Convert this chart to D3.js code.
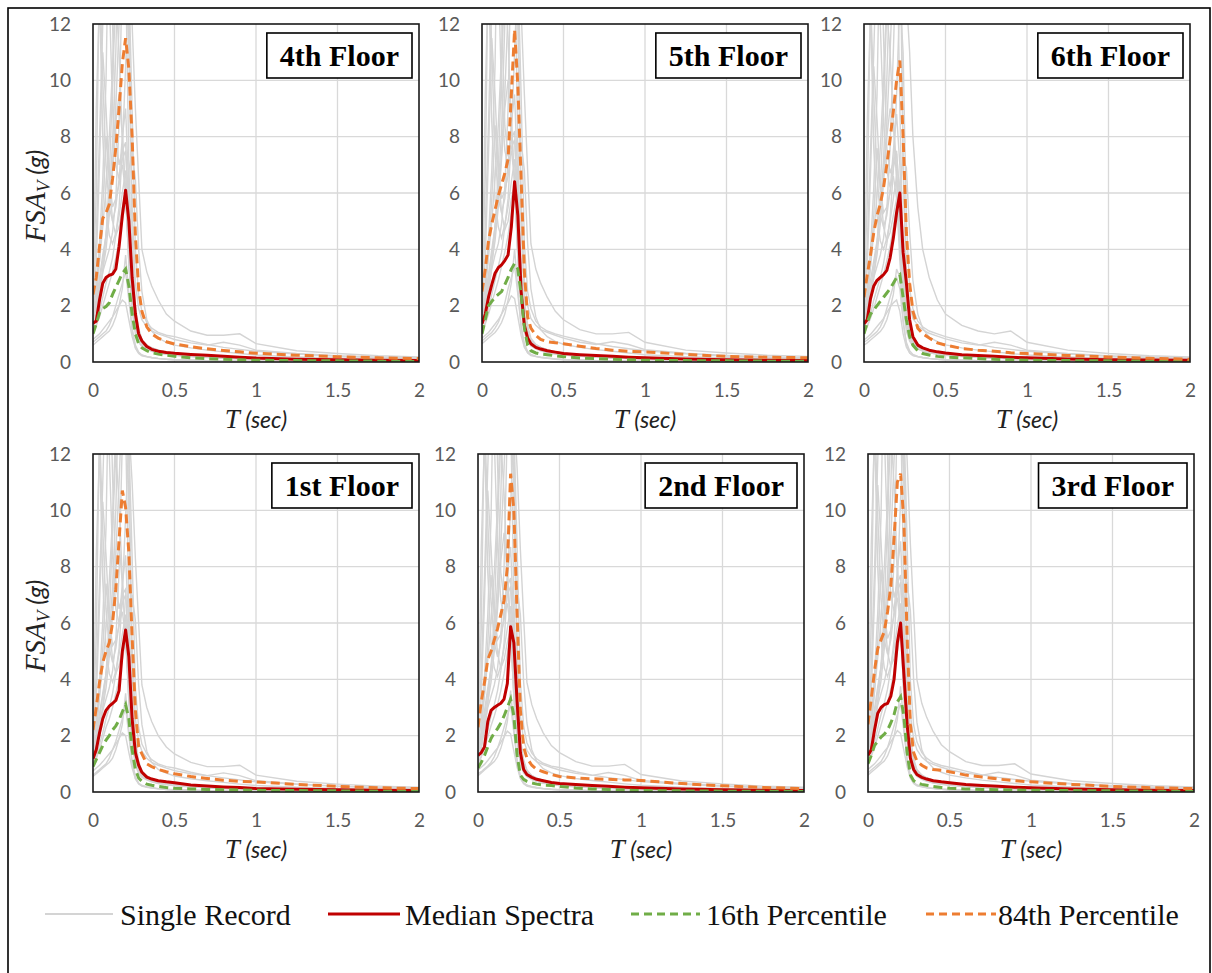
<!DOCTYPE html>
<html><head><meta charset="utf-8">
<script src="https://cdn.jsdelivr.net/npm/d3@7"></script>
<style>body{margin:0;background:#fff} svg{display:block}</style>
</head><body>
<svg id="chart" width="1212" height="973"></svg>
<script>
// ---------------- DATA ----------------
const periods = [0,0.02,0.04,0.06,0.08,0.10,0.12,0.14,0.16,0.18,0.20,0.22,0.24,0.26,0.28,0.30,0.33,0.36,0.40,0.45,0.50,0.60,0.70,0.80,0.90,1.00,1.25,1.50,1.75,2.00];
const xTicks = [0,0.5,1,1.5,2];
const yTicks = [0,2,4,6,8,10,12];
const floorNames = ["4th Floor","5th Floor","6th Floor","1st Floor","2nd Floor","3rd Floor"];
const legendLabels = ["Single Record","Median Spectra","16th Percentile","84th Percentile"];

const median4th = [1.38,1.45,2.2,2.8,3.0,3.08,3.12,3.3,4.1,5.2,6.1,5.0,3.0,1.7,1.0,0.75,0.55,0.45,0.38,0.34,0.31,0.27,0.24,0.2,0.17,0.14,0.1,0.08,0.06,0.05];
const p84_4th   = [2.4,3.0,4.1,5.1,5.3,5.6,6.5,7.6,9.0,10.6,11.5,10.4,8.0,4.5,2.6,1.8,1.25,1.0,0.85,0.72,0.64,0.54,0.47,0.41,0.36,0.31,0.24,0.19,0.15,0.12];
const p16_4th   = [1.0,1.35,1.75,1.9,1.97,2.1,2.4,2.65,2.9,3.15,3.3,2.7,1.7,1.0,0.65,0.5,0.4,0.33,0.28,0.24,0.2,0.15,0.12,0.1,0.08,0.06,0.05,0.04,0.03,0.02];

const median5th = [1.36,1.7,2.3,2.75,3.15,3.35,3.45,3.6,3.8,4.8,6.4,5.2,2.5,1.3,0.85,0.65,0.52,0.46,0.4,0.35,0.3,0.26,0.23,0.2,0.17,0.15,0.11,0.08,0.06,0.05];
const p84_5th   = [2.5,3.3,4.3,4.9,5.4,5.9,6.3,6.7,7.2,9.5,11.8,9.8,6.5,3.2,1.6,1.2,0.95,0.8,0.72,0.68,0.65,0.56,0.48,0.42,0.38,0.36,0.27,0.2,0.17,0.15];
const p16_5th   = [1.0,1.5,2.0,2.15,2.3,2.4,2.5,2.75,3.0,3.3,3.5,3.3,2.4,1.2,0.6,0.4,0.32,0.28,0.26,0.22,0.19,0.14,0.12,0.1,0.08,0.06,0.05,0.04,0.03,0.03];

const median6th = [1.36,1.5,2.25,2.7,2.9,3.0,3.1,3.25,3.7,4.4,5.3,6.0,3.9,2.8,1.5,0.9,0.6,0.5,0.42,0.36,0.32,0.26,0.23,0.2,0.17,0.15,0.11,0.08,0.07,0.06];
const p84_6th   = [2.3,3.1,3.8,4.6,5.2,5.6,6.2,7.0,7.9,8.9,10.0,10.7,8.0,4.6,2.8,1.8,1.2,1.0,0.85,0.68,0.6,0.48,0.42,0.38,0.33,0.3,0.23,0.18,0.13,0.1];
const p16_6th   = [1.0,1.4,1.7,1.85,2.0,2.15,2.3,2.45,2.6,2.8,3.0,3.1,2.3,1.5,0.9,0.6,0.4,0.3,0.25,0.2,0.17,0.15,0.12,0.1,0.08,0.06,0.05,0.04,0.03,0.03];

const median1st = [1.18,1.5,2.1,2.6,2.9,3.05,3.15,3.25,3.6,5.0,5.75,4.8,2.6,1.4,0.95,0.7,0.53,0.46,0.4,0.36,0.33,0.25,0.21,0.18,0.16,0.12,0.1,0.08,0.06,0.05];
const p84_1st   = [2.2,3.0,3.9,4.6,5.0,5.3,6.0,7.2,8.95,10.7,10.1,8.5,5.5,2.9,1.6,1.35,1.0,0.9,0.8,0.72,0.65,0.55,0.48,0.42,0.38,0.36,0.27,0.2,0.15,0.12];
const p16_1st   = [0.9,1.15,1.4,1.65,1.84,2.0,2.2,2.35,2.55,2.85,3.1,2.6,1.5,0.8,0.5,0.38,0.28,0.24,0.2,0.16,0.13,0.11,0.09,0.08,0.07,0.06,0.05,0.04,0.03,0.02];

const median2nd = [1.3,1.4,1.6,2.5,2.9,3.0,3.08,3.15,3.3,3.85,5.87,5.3,3.2,1.4,0.8,0.62,0.52,0.45,0.4,0.34,0.3,0.27,0.23,0.2,0.17,0.15,0.11,0.08,0.06,0.05];
const p84_2nd   = [2.3,3.2,3.9,4.7,5.0,5.4,5.8,6.3,6.8,8.0,11.3,10.0,6.3,2.9,1.6,1.2,0.95,0.8,0.72,0.62,0.55,0.5,0.47,0.45,0.43,0.41,0.3,0.22,0.16,0.12];
const p16_2nd   = [0.85,1.05,1.3,1.6,1.9,2.1,2.25,2.45,2.7,3.0,3.3,2.7,1.3,0.6,0.45,0.38,0.32,0.28,0.25,0.23,0.2,0.14,0.11,0.09,0.07,0.05,0.04,0.03,0.03,0.02];

const median3rd = [1.3,1.5,2.2,2.8,3.0,3.1,3.15,3.4,4.0,5.3,6.0,4.2,2.4,1.2,0.8,0.62,0.52,0.46,0.4,0.36,0.33,0.27,0.23,0.2,0.17,0.15,0.11,0.08,0.06,0.05];
const p84_3rd   = [2.4,3.3,4.3,5.1,5.4,5.7,6.4,7.3,9.0,11.0,11.3,9.6,5.5,2.4,1.4,1.1,0.95,0.85,0.8,0.77,0.72,0.6,0.53,0.46,0.4,0.36,0.27,0.2,0.15,0.12];
const p16_3rd   = [1.0,1.3,1.65,1.8,1.95,2.05,2.2,2.45,2.75,3.2,3.38,2.7,1.4,0.6,0.4,0.32,0.27,0.24,0.2,0.16,0.13,0.11,0.09,0.08,0.07,0.06,0.05,0.04,0.03,0.02];

const records4th = [
[1.2,1.6,2.5,3.2,3.6,4.0,4.6,5.8,8.5,14,18,11,4.5,2.0,1.2,0.8,0.6,0.5,0.42,0.36,0.3,0.24,0.2,0.17,0.14,0.12,0.09,0.07,0.05,0.04],
[2.2,4.5,8,12,16,13,9,7,6.5,7,6,3.5,2.0,1.3,0.9,0.7,0.55,0.45,0.38,0.32,0.28,0.22,0.18,0.15,0.13,0.11,0.08,0.06,0.05,0.04],
[0.7,0.8,0.9,1.0,1.1,1.3,1.6,2.0,2.4,2.8,3.2,2.2,1.2,0.6,0.35,0.25,0.2,0.16,0.13,0.1,0.08,0.06,0.05,0.04,0.03,0.03,0.02,0.02,0.01,0.01],
[1.8,2.2,3.0,3.8,4.5,5.5,7.0,9.0,12,15,16,14,12,9,6.5,4.0,3.2,2.7,2.2,1.7,1.45,1.1,0.95,0.95,1.0,0.65,0.4,0.3,0.22,0.18],
[1.5,1.9,2.6,3.3,4.0,5.2,6.8,8.5,9.5,8.0,6.0,3.5,1.8,1.0,0.7,0.55,0.45,0.38,0.32,0.27,0.24,0.2,0.17,0.14,0.12,0.1,0.08,0.06,0.05,0.04],
[1.0,1.3,1.8,2.3,2.8,3.2,3.7,4.5,5.5,7.5,10.5,13.5,9.0,4.0,2.4,1.8,1.4,1.2,1.05,0.95,0.9,0.75,0.62,0.52,0.45,0.38,0.28,0.2,0.16,0.13],
[0.6,0.7,0.8,0.9,1.0,1.1,1.3,1.6,2.0,2.6,3.8,2.4,1.1,0.5,0.3,0.22,0.18,0.15,0.12,0.1,0.08,0.06,0.05,0.04,0.03,0.03,0.02,0.02,0.01,0.01],
[2.6,6,14,10,7,5.5,5.0,5.5,6.5,8.0,9.0,6.0,3.0,1.6,1.0,0.75,0.6,0.5,0.42,0.35,0.3,0.24,0.2,0.17,0.15,0.13,0.1,0.08,0.06,0.05],
[1.6,2.0,2.8,3.6,4.5,5.8,7.8,11,16,20,14,7.0,3.0,1.5,1.0,0.75,0.58,0.48,0.4,0.34,0.3,0.25,0.21,0.18,0.15,0.13,0.1,0.08,0.06,0.05],
[1.1,1.3,1.6,2.0,2.4,2.8,3.2,3.7,4.3,5.0,5.8,6.8,7.5,6.5,4.0,2.5,1.5,1.1,0.85,0.7,0.6,0.5,0.42,0.36,0.3,0.25,0.18,0.14,0.11,0.09],
[1.4,2.2,3.6,5.5,8.0,6.5,5.0,4.5,4.8,5.5,6.0,4.0,2.2,1.3,0.85,0.65,0.5,0.42,0.35,0.3,0.26,0.2,0.17,0.14,0.12,0.1,0.08,0.06,0.05,0.04],
[1.3,1.7,2.4,3.2,4.5,6.5,10,13,11,8,6,3.5,2.0,1.2,0.8,0.6,0.48,0.4,0.33,0.28,0.24,0.19,0.16,0.13,0.11,0.09,0.07,0.05,0.04,0.03],
[1.9,9,13,8,5.5,4.5,4.2,4.6,5.2,6.0,6.8,4.5,2.4,1.4,0.9,0.68,0.52,0.43,0.36,0.3,0.26,0.2,0.17,0.14,0.12,0.1,0.08,0.06,0.05,0.04],
[1.7,2.6,4.2,6.5,10,17,12,8,7,7.5,7.8,5,2.6,1.5,1.0,0.75,0.58,0.48,0.4,0.34,0.29,0.23,0.19,0.16,0.14,0.12,0.09,0.07,0.05,0.04],
[0.8,0.9,1.0,1.15,1.3,1.45,1.6,1.8,2.0,2.2,2.1,1.5,0.9,0.5,0.32,0.24,0.19,0.16,0.13,0.1,0.08,0.06,0.05,0.04,0.03,0.03,0.02,0.02,0.01,0.01],
[2.0,2.6,3.6,4.8,6.2,8.0,10.5,14,19,24,22,13,5.5,2.8,1.9,1.5,1.25,1.1,1.0,0.9,0.8,0.68,0.6,0.7,0.6,0.42,0.3,0.22,0.17,0.14],
[1.6,3.5,7,11,9,6.5,5.5,5.8,6.3,7.2,7.5,5.2,2.8,1.6,1.05,0.78,0.6,0.5,0.42,0.35,0.3,0.24,0.2,0.17,0.14,0.12,0.09,0.07,0.05,0.04]
];
const records5th = [
[1.3,1.7,2.6,3.3,3.8,4.2,4.9,6.2,9.0,15,19,12,5.0,2.2,1.3,0.85,0.62,0.52,0.44,0.37,0.31,0.25,0.21,0.18,0.15,0.13,0.1,0.07,0.05,0.04],
[2.4,4.8,8.5,13,17,14,9.5,7.5,7,7.5,6.5,3.8,2.1,1.4,0.95,0.72,0.57,0.47,0.4,0.33,0.29,0.23,0.19,0.16,0.14,0.12,0.09,0.07,0.05,0.04],
[0.75,0.85,0.95,1.05,1.2,1.4,1.7,2.1,2.6,3.0,3.4,2.4,1.3,0.65,0.38,0.27,0.21,0.17,0.14,0.11,0.09,0.07,0.05,0.04,0.04,0.03,0.02,0.02,0.01,0.01],
[1.9,2.3,3.1,4.0,4.8,5.8,7.4,9.5,12.5,16,17,15,12.5,9.5,6.8,4.2,3.3,2.8,2.3,1.8,1.5,1.15,1.0,1.0,1.05,0.7,0.42,0.32,0.24,0.2],
[1.6,2.0,2.8,3.5,4.3,5.5,7.2,9.0,10,8.5,6.3,3.7,1.9,1.05,0.72,0.57,0.47,0.4,0.33,0.28,0.25,0.21,0.18,0.15,0.13,0.11,0.08,0.06,0.05,0.04],
[1.1,1.4,1.9,2.4,2.9,3.4,3.9,4.8,5.8,8.0,11,14,9.5,4.2,2.5,1.9,1.45,1.25,1.1,1.0,0.92,0.78,0.65,0.55,0.47,0.4,0.29,0.21,0.17,0.14],
[0.65,0.75,0.85,0.95,1.05,1.2,1.4,1.7,2.2,2.8,4.0,2.6,1.2,0.55,0.32,0.23,0.19,0.16,0.13,0.1,0.08,0.06,0.05,0.04,0.03,0.03,0.02,0.02,0.01,0.01],
[2.7,6.5,15,11,7.5,5.8,5.3,5.8,7.0,8.5,9.5,6.3,3.2,1.7,1.05,0.78,0.62,0.52,0.44,0.36,0.31,0.25,0.21,0.18,0.16,0.14,0.1,0.08,0.06,0.05],
[1.7,2.1,3.0,3.8,4.8,6.1,8.2,12,17,21,15,7.5,3.2,1.6,1.05,0.78,0.6,0.5,0.42,0.35,0.31,0.26,0.22,0.19,0.16,0.14,0.1,0.08,0.06,0.05],
[1.15,1.35,1.7,2.1,2.5,2.9,3.4,3.9,4.5,5.3,6.1,7.1,7.8,6.8,4.2,2.6,1.6,1.15,0.9,0.73,0.63,0.52,0.44,0.38,0.32,0.26,0.19,0.15,0.12,0.1],
[1.5,2.3,3.8,5.8,8.4,6.8,5.3,4.7,5.0,5.8,6.3,4.2,2.3,1.35,0.9,0.68,0.52,0.44,0.37,0.31,0.27,0.21,0.18,0.15,0.13,0.11,0.08,0.06,0.05,0.04],
[1.35,1.8,2.5,3.4,4.7,6.8,10.5,13.5,11.5,8.5,6.3,3.7,2.1,1.25,0.85,0.63,0.5,0.42,0.35,0.29,0.25,0.2,0.17,0.14,0.12,0.1,0.07,0.05,0.04,0.03],
[2.0,9.5,14,8.5,5.8,4.8,4.4,4.9,5.5,6.4,7.2,4.8,2.5,1.45,0.95,0.7,0.54,0.45,0.37,0.31,0.27,0.21,0.18,0.15,0.12,0.1,0.08,0.06,0.05,0.04],
[1.8,2.7,4.4,6.8,10.5,18,12.5,8.4,7.3,7.9,8.2,5.3,2.7,1.55,1.05,0.78,0.6,0.5,0.42,0.35,0.3,0.24,0.2,0.17,0.14,0.12,0.09,0.07,0.05,0.04],
[0.85,0.95,1.05,1.2,1.35,1.5,1.7,1.9,2.1,2.35,2.25,1.6,0.95,0.52,0.34,0.25,0.2,0.17,0.14,0.11,0.09,0.07,0.05,0.04,0.03,0.03,0.02,0.02,0.01,0.01],
[2.1,2.7,3.8,5.0,6.5,8.4,11,15,20,25,23,13.5,5.8,2.9,2.0,1.55,1.3,1.15,1.05,0.95,0.85,0.7,0.62,0.72,0.62,0.44,0.31,0.23,0.18,0.15],
[1.7,3.7,7.4,11.5,9.5,6.8,5.8,6.1,6.6,7.6,7.9,5.5,2.9,1.65,1.1,0.8,0.62,0.52,0.43,0.36,0.31,0.25,0.21,0.18,0.15,0.12,0.09,0.07,0.05,0.04]
];
const records6th = [
[1.2,1.5,2.3,3.0,3.4,3.8,4.4,5.4,7.6,11,15,16,7.0,2.8,1.4,0.9,0.65,0.52,0.44,0.37,0.31,0.25,0.21,0.18,0.15,0.13,0.1,0.07,0.05,0.04],
[2.1,4.2,7.5,11,15,12,8.5,6.8,6.2,6.6,5.8,3.6,2.0,1.3,0.9,0.7,0.55,0.45,0.38,0.32,0.28,0.22,0.18,0.15,0.13,0.11,0.08,0.06,0.05,0.04],
[0.7,0.78,0.88,0.98,1.08,1.25,1.5,1.9,2.3,2.7,3.0,2.6,1.4,0.7,0.4,0.27,0.2,0.16,0.13,0.1,0.08,0.06,0.05,0.04,0.03,0.03,0.02,0.02,0.01,0.01],
[1.7,2.1,2.9,3.6,4.3,5.2,6.6,8.4,11,14,16,17,15,13,11,8,5.5,4.0,3.0,2.2,1.7,1.3,1.1,1.0,1.1,0.7,0.42,0.3,0.22,0.18],
[1.4,1.8,2.5,3.1,3.8,4.9,6.4,8.0,9.0,8.6,6.8,4.2,2.0,1.1,0.74,0.57,0.46,0.39,0.33,0.28,0.24,0.2,0.17,0.14,0.12,0.1,0.08,0.06,0.05,0.04],
[1.0,1.25,1.7,2.2,2.6,3.0,3.5,4.2,5.1,6.8,9.5,13,11,5.0,2.6,1.9,1.45,1.25,1.1,1.0,0.9,0.75,0.62,0.52,0.45,0.38,0.28,0.2,0.16,0.13],
[0.6,0.68,0.78,0.88,0.98,1.08,1.25,1.5,1.9,2.4,3.3,3.0,1.5,0.6,0.32,0.23,0.18,0.15,0.12,0.1,0.08,0.06,0.05,0.04,0.03,0.03,0.02,0.02,0.01,0.01],
[2.5,5.6,13,9.5,6.6,5.2,4.8,5.2,6.1,7.5,8.8,7.0,3.4,1.7,1.05,0.78,0.6,0.5,0.42,0.35,0.3,0.24,0.2,0.17,0.15,0.13,0.1,0.08,0.06,0.05],
[1.5,1.9,2.6,3.4,4.2,5.4,7.2,10,14,18,16,9.0,3.6,1.7,1.05,0.77,0.59,0.49,0.41,0.34,0.3,0.25,0.21,0.18,0.15,0.13,0.1,0.08,0.06,0.05],
[1.05,1.25,1.55,1.9,2.3,2.7,3.1,3.6,4.1,4.8,5.5,6.4,7.2,6.9,4.6,2.9,1.7,1.2,0.88,0.72,0.61,0.5,0.42,0.36,0.3,0.25,0.18,0.14,0.11,0.09],
[1.35,2.1,3.4,5.2,7.6,6.2,4.8,4.3,4.6,5.2,5.8,4.6,2.5,1.4,0.88,0.66,0.5,0.42,0.35,0.3,0.26,0.2,0.17,0.14,0.12,0.1,0.08,0.06,0.05,0.04],
[1.25,1.6,2.3,3.0,4.2,6.0,9.2,12.5,11,8.5,6.4,4.0,2.2,1.3,0.82,0.61,0.48,0.4,0.33,0.28,0.24,0.19,0.16,0.13,0.11,0.09,0.07,0.05,0.04,0.03],
[1.85,8.5,12.5,7.6,5.2,4.3,4.0,4.4,5.0,5.8,6.6,5.0,2.6,1.45,0.92,0.68,0.52,0.43,0.36,0.3,0.26,0.2,0.17,0.14,0.12,0.1,0.08,0.06,0.05,0.04],
[1.6,2.5,4.0,6.2,9.5,16,11.5,7.6,6.7,7.1,7.5,5.6,2.9,1.6,1.05,0.76,0.58,0.48,0.4,0.34,0.29,0.23,0.19,0.16,0.14,0.12,0.09,0.07,0.05,0.04],
[0.78,0.88,0.98,1.12,1.26,1.4,1.55,1.75,1.95,2.1,2.2,1.8,1.0,0.52,0.33,0.24,0.19,0.16,0.13,0.1,0.08,0.06,0.05,0.04,0.03,0.03,0.02,0.02,0.01,0.01],
[1.9,2.5,3.4,4.6,5.9,7.6,10,13,17,21,23,18,7.0,3.2,2.0,1.55,1.3,1.15,1.02,0.92,0.82,0.68,0.6,0.7,0.6,0.42,0.3,0.22,0.17,0.14],
[1.55,3.4,6.7,10.5,8.6,6.2,5.3,5.5,6.0,6.9,7.4,5.8,3.0,1.7,1.1,0.8,0.6,0.5,0.42,0.35,0.3,0.24,0.2,0.17,0.14,0.12,0.09,0.07,0.05,0.04]
];
const records1st = [
[1.0,1.4,2.2,2.9,3.3,3.7,4.3,5.4,7.8,12.5,16,10,4.2,1.9,1.1,0.75,0.56,0.47,0.4,0.34,0.29,0.23,0.19,0.16,0.13,0.11,0.08,0.06,0.05,0.04],
[2.0,4.2,7.4,11,15,12,8.4,6.5,6.0,6.4,5.5,3.2,1.9,1.2,0.85,0.66,0.52,0.43,0.36,0.3,0.27,0.21,0.17,0.14,0.12,0.1,0.08,0.06,0.05,0.04],
[0.6,0.7,0.8,0.9,1.0,1.2,1.5,1.8,2.2,2.6,3.0,2.0,1.1,0.55,0.32,0.23,0.18,0.15,0.12,0.09,0.07,0.06,0.05,0.04,0.03,0.03,0.02,0.02,0.01,0.01],
[1.6,2.0,2.8,3.5,4.2,5.1,6.5,8.4,11,14,15,13,11,8.3,6.0,3.8,3.0,2.5,2.0,1.6,1.35,1.05,0.9,0.9,0.95,0.6,0.38,0.28,0.21,0.17],
[1.3,1.7,2.4,3.0,3.7,4.8,6.3,7.9,8.8,7.4,5.6,3.3,1.7,0.95,0.66,0.52,0.43,0.36,0.3,0.26,0.23,0.19,0.16,0.13,0.11,0.09,0.07,0.06,0.05,0.04],
[0.9,1.2,1.7,2.1,2.6,3.0,3.5,4.2,5.1,7.0,9.8,12.5,8.4,3.7,2.3,1.7,1.35,1.15,1.0,0.9,0.85,0.7,0.58,0.5,0.43,0.36,0.27,0.2,0.16,0.13],
[0.55,0.65,0.75,0.85,0.95,1.05,1.2,1.5,1.9,2.4,3.5,2.2,1.0,0.47,0.28,0.21,0.17,0.14,0.11,0.09,0.07,0.06,0.05,0.04,0.03,0.03,0.02,0.02,0.01,0.01],
[2.4,5.5,13,9.3,6.5,5.1,4.6,5.1,6.0,7.4,8.4,5.6,2.8,1.5,0.95,0.72,0.57,0.48,0.4,0.33,0.29,0.23,0.19,0.16,0.14,0.12,0.09,0.07,0.06,0.05],
[1.5,1.9,2.6,3.4,4.2,5.4,7.3,10,15,18,13,6.5,2.8,1.4,0.95,0.72,0.55,0.46,0.38,0.32,0.28,0.24,0.2,0.17,0.14,0.12,0.09,0.07,0.06,0.05],
[1.0,1.2,1.5,1.9,2.3,2.6,3.0,3.5,4.0,4.7,5.4,6.3,7.0,6.1,3.8,2.4,1.45,1.05,0.8,0.67,0.57,0.47,0.4,0.34,0.28,0.23,0.17,0.13,0.1,0.08],
[1.3,2.0,3.4,5.1,7.4,6.0,4.7,4.2,4.5,5.1,5.6,3.7,2.1,1.2,0.8,0.62,0.48,0.4,0.33,0.28,0.25,0.19,0.16,0.13,0.11,0.09,0.07,0.06,0.05,0.04],
[1.2,1.6,2.2,3.0,4.2,6.1,9.4,12,10.3,7.5,5.6,3.3,1.9,1.1,0.76,0.57,0.45,0.38,0.31,0.26,0.22,0.18,0.15,0.12,0.1,0.08,0.06,0.05,0.04,0.03],
[1.75,8.4,12.2,7.5,5.1,4.2,3.9,4.3,4.9,5.6,6.3,4.2,2.2,1.3,0.85,0.64,0.49,0.41,0.34,0.28,0.24,0.19,0.16,0.13,0.11,0.09,0.07,0.06,0.05,0.04],
[1.6,2.4,3.9,6.1,9.4,16,11.2,7.5,6.5,7.0,7.2,4.6,2.4,1.4,0.95,0.7,0.55,0.45,0.38,0.32,0.27,0.22,0.18,0.15,0.13,0.11,0.08,0.06,0.05,0.04],
[0.75,0.85,0.95,1.08,1.22,1.36,1.5,1.7,1.9,2.1,2.0,1.4,0.85,0.47,0.3,0.23,0.18,0.15,0.12,0.1,0.08,0.06,0.05,0.04,0.03,0.03,0.02,0.02,0.01,0.01],
[1.9,2.4,3.4,4.5,5.8,7.5,9.8,13,18,22,20,12,5.1,2.6,1.8,1.45,1.2,1.05,0.95,0.85,0.76,0.65,0.58,0.68,0.58,0.4,0.29,0.21,0.16,0.13],
[1.5,3.3,6.6,10.3,8.4,6.1,5.2,5.4,5.9,6.7,7.0,4.8,2.6,1.5,1.0,0.74,0.57,0.47,0.4,0.33,0.28,0.23,0.19,0.16,0.13,0.11,0.09,0.07,0.05,0.04]
];
const records2nd = [
[1.1,1.5,2.3,3.0,3.4,3.8,4.4,5.5,8.0,13,17,10.5,4.3,1.9,1.15,0.78,0.58,0.48,0.41,0.35,0.3,0.24,0.2,0.17,0.14,0.12,0.09,0.07,0.05,0.04],
[2.1,4.3,7.7,11.5,15.5,12.5,8.7,6.8,6.2,6.7,5.8,3.4,1.95,1.25,0.88,0.68,0.54,0.44,0.37,0.31,0.27,0.21,0.18,0.15,0.13,0.11,0.08,0.06,0.05,0.04],
[0.65,0.72,0.82,0.92,1.05,1.25,1.55,1.9,2.3,2.7,3.1,2.1,1.15,0.58,0.34,0.24,0.19,0.15,0.12,0.1,0.08,0.06,0.05,0.04,0.03,0.03,0.02,0.02,0.01,0.01],
[1.7,2.1,2.9,3.7,4.4,5.3,6.8,8.7,11.5,14.5,15.5,13.5,11.5,8.6,6.2,3.9,3.1,2.6,2.1,1.65,1.4,1.08,0.92,0.92,0.98,0.62,0.39,0.29,0.21,0.17],
[1.4,1.8,2.5,3.2,3.9,5.0,6.5,8.2,9.2,7.7,5.8,3.4,1.75,0.98,0.68,0.54,0.44,0.37,0.31,0.27,0.23,0.19,0.16,0.14,0.12,0.1,0.08,0.06,0.05,0.04],
[0.95,1.25,1.75,2.2,2.7,3.1,3.6,4.3,5.3,7.2,10.2,13,8.7,3.9,2.35,1.75,1.38,1.18,1.02,0.92,0.87,0.72,0.6,0.51,0.44,0.37,0.27,0.2,0.16,0.13],
[0.58,0.68,0.78,0.88,0.98,1.08,1.25,1.55,1.95,2.5,3.6,2.3,1.05,0.48,0.29,0.21,0.17,0.14,0.11,0.09,0.08,0.06,0.05,0.04,0.03,0.03,0.02,0.02,0.01,0.01],
[2.5,5.8,13.5,9.6,6.8,5.3,4.8,5.3,6.3,7.7,8.7,5.8,2.9,1.55,0.98,0.74,0.58,0.49,0.41,0.34,0.29,0.23,0.19,0.16,0.14,0.12,0.09,0.07,0.06,0.05],
[1.55,1.95,2.7,3.5,4.4,5.6,7.5,10.5,15.5,19,13.5,6.8,2.9,1.45,0.98,0.73,0.56,0.47,0.39,0.33,0.29,0.24,0.2,0.17,0.14,0.12,0.09,0.07,0.06,0.05],
[1.05,1.25,1.55,1.95,2.35,2.7,3.1,3.6,4.2,4.9,5.6,6.6,7.3,6.3,3.9,2.45,1.5,1.08,0.83,0.68,0.58,0.48,0.41,0.35,0.29,0.24,0.17,0.13,0.1,0.08],
[1.35,2.1,3.5,5.3,7.7,6.3,4.9,4.4,4.7,5.3,5.8,3.9,2.15,1.25,0.82,0.63,0.49,0.41,0.34,0.29,0.25,0.2,0.16,0.14,0.12,0.1,0.08,0.06,0.05,0.04],
[1.25,1.65,2.3,3.1,4.4,6.3,9.7,12.5,10.6,7.8,5.8,3.4,1.95,1.15,0.78,0.58,0.46,0.39,0.32,0.27,0.23,0.18,0.15,0.12,0.1,0.08,0.06,0.05,0.04,0.03],
[1.8,8.7,12.6,7.8,5.3,4.4,4.1,4.5,5.1,5.8,6.6,4.4,2.3,1.35,0.88,0.66,0.51,0.42,0.35,0.29,0.25,0.2,0.17,0.14,0.12,0.1,0.08,0.06,0.05,0.04],
[1.65,2.5,4.1,6.3,9.7,16.5,11.6,7.8,6.8,7.3,7.6,4.8,2.5,1.45,0.98,0.73,0.57,0.47,0.39,0.33,0.28,0.22,0.18,0.15,0.13,0.11,0.08,0.06,0.05,0.04],
[0.78,0.88,0.98,1.12,1.27,1.42,1.56,1.76,1.96,2.16,2.06,1.45,0.88,0.49,0.31,0.24,0.19,0.16,0.13,0.1,0.08,0.06,0.05,0.04,0.03,0.03,0.02,0.02,0.01,0.01],
[1.95,2.5,3.5,4.7,6.0,7.8,10.2,13.6,18.5,23,21,12.5,5.3,2.7,1.85,1.48,1.22,1.08,0.97,0.87,0.78,0.66,0.59,0.69,0.59,0.41,0.3,0.22,0.17,0.14],
[1.55,3.4,6.8,10.7,8.7,6.3,5.4,5.6,6.1,7.0,7.3,5.0,2.7,1.55,1.02,0.76,0.58,0.48,0.41,0.34,0.29,0.23,0.19,0.16,0.13,0.11,0.09,0.07,0.05,0.04]
];
const records3rd = [
[1.2,1.6,2.4,3.1,3.5,3.9,4.5,5.7,8.3,13.5,17.5,10.8,4.4,1.95,1.18,0.8,0.6,0.5,0.42,0.36,0.3,0.24,0.2,0.17,0.14,0.12,0.09,0.07,0.05,0.04],
[2.2,4.4,7.9,11.8,15.8,12.8,8.9,7.0,6.4,6.9,5.9,3.5,2.0,1.3,0.9,0.7,0.55,0.45,0.38,0.32,0.28,0.22,0.18,0.15,0.13,0.11,0.08,0.06,0.05,0.04],
[0.68,0.78,0.88,0.98,1.08,1.28,1.58,1.95,2.35,2.75,3.15,2.15,1.18,0.6,0.35,0.25,0.2,0.16,0.13,0.1,0.08,0.06,0.05,0.04,0.03,0.03,0.02,0.02,0.01,0.01],
[1.75,2.15,2.95,3.75,4.45,5.4,6.9,8.9,11.8,14.8,15.8,13.8,11.8,8.8,6.4,4.0,3.15,2.65,2.15,1.68,1.43,1.08,0.94,0.94,1.0,0.64,0.4,0.3,0.22,0.18],
[1.45,1.85,2.55,3.25,3.95,5.1,6.7,8.4,9.4,7.9,5.9,3.45,1.78,1.0,0.7,0.55,0.45,0.38,0.32,0.27,0.24,0.2,0.17,0.14,0.12,0.1,0.08,0.06,0.05,0.04],
[0.98,1.28,1.78,2.25,2.75,3.15,3.65,4.4,5.4,7.4,10.4,13.3,8.9,3.95,2.38,1.78,1.4,1.2,1.04,0.94,0.88,0.74,0.61,0.52,0.45,0.38,0.28,0.2,0.16,0.13],
[0.6,0.7,0.8,0.9,1.0,1.1,1.28,1.58,1.98,2.58,3.75,2.35,1.08,0.5,0.3,0.22,0.18,0.15,0.12,0.1,0.08,0.06,0.05,0.04,0.03,0.03,0.02,0.02,0.01,0.01],
[2.6,5.9,13.8,9.8,6.9,5.4,4.9,5.4,6.4,7.9,8.9,5.9,2.95,1.58,1.0,0.75,0.6,0.5,0.42,0.35,0.3,0.24,0.2,0.17,0.15,0.13,0.1,0.08,0.06,0.05],
[1.58,1.98,2.78,3.58,4.45,5.75,7.7,10.8,15.8,19.5,13.8,6.9,2.95,1.48,1.0,0.75,0.58,0.48,0.4,0.34,0.3,0.25,0.21,0.18,0.15,0.13,0.1,0.08,0.06,0.05],
[1.08,1.28,1.58,1.98,2.38,2.78,3.18,3.68,4.28,4.98,5.75,6.75,7.45,6.45,3.98,2.48,1.5,1.1,0.85,0.7,0.6,0.5,0.42,0.36,0.3,0.25,0.18,0.14,0.11,0.09],
[1.38,2.18,3.58,5.45,7.9,6.45,4.95,4.45,4.75,5.45,5.95,3.95,2.18,1.28,0.84,0.64,0.5,0.42,0.35,0.3,0.26,0.2,0.17,0.14,0.12,0.1,0.08,0.06,0.05,0.04],
[1.28,1.68,2.38,3.18,4.45,6.45,9.9,12.8,10.9,7.9,5.95,3.45,1.98,1.18,0.8,0.6,0.48,0.4,0.33,0.28,0.24,0.19,0.16,0.13,0.11,0.09,0.07,0.05,0.04,0.03],
[1.85,8.8,12.8,7.9,5.4,4.4,4.1,4.5,5.1,5.9,6.7,4.4,2.35,1.38,0.9,0.67,0.52,0.43,0.36,0.3,0.26,0.2,0.17,0.14,0.12,0.1,0.08,0.06,0.05,0.04],
[1.68,2.55,4.15,6.4,9.8,16.8,11.8,7.9,6.9,7.4,7.7,4.9,2.55,1.48,1.0,0.74,0.58,0.48,0.4,0.34,0.29,0.23,0.19,0.16,0.14,0.12,0.09,0.07,0.05,0.04],
[0.8,0.9,1.0,1.14,1.29,1.44,1.58,1.78,1.98,2.18,2.08,1.48,0.9,0.5,0.32,0.24,0.19,0.16,0.13,0.1,0.08,0.06,0.05,0.04,0.03,0.03,0.02,0.02,0.01,0.01],
[1.98,2.58,3.58,4.78,6.15,7.95,10.4,13.9,18.8,23.5,21.5,12.8,5.4,2.75,1.88,1.5,1.24,1.09,0.98,0.88,0.79,0.67,0.6,0.7,0.6,0.42,0.3,0.22,0.17,0.14],
[1.58,3.45,6.9,10.9,8.9,6.4,5.45,5.75,6.25,7.1,7.45,5.1,2.75,1.58,1.04,0.77,0.59,0.49,0.41,0.35,0.3,0.24,0.2,0.17,0.14,0.12,0.09,0.07,0.05,0.04]
];

// ---------------- LAYOUT / STYLE ----------------
const panels = [
  {title: floorNames[0], records: records4th, median: median4th, p16: p16_4th, p84: p84_4th, left: 93,  top: 24},
  {title: floorNames[1], records: records5th, median: median5th, p16: p16_5th, p84: p84_5th, left: 482, top: 24},
  {title: floorNames[2], records: records6th, median: median6th, p16: p16_6th, p84: p84_6th, left: 864, top: 24},
  {title: floorNames[3], records: records1st, median: median1st, p16: p16_1st, p84: p84_1st, left: 93,  top: 454},
  {title: floorNames[4], records: records2nd, median: median2nd, p16: p16_2nd, p84: p84_2nd, left: 478, top: 454},
  {title: floorNames[5], records: records3rd, median: median3rd, p16: p16_3rd, p84: p84_3rd, left: 868, top: 454}
];
const plotW = 326, plotH = 338;
const colors = {record: "#d4d4d4", median: "#c00000", p16: "#70ad47", p84: "#ed7d31", grid: "#d9d9d9", tick: "#595959"};
const tickFont = "Lato, 'Open Sans', sans-serif";
const serif = "'Liberation Serif', 'Times New Roman', serif";

const svg = d3.select("#chart");
svg.append("rect").attr("width",1212).attr("height",973).attr("fill","#fff");
svg.append("rect").attr("x",8).attr("y",8).attr("width",1202).attr("height",990)
   .attr("fill","none").attr("stroke","#000").attr("stroke-width",1.6);

const x = d3.scaleLinear().domain([0,2]).range([0,plotW]);
const y = d3.scaleLinear().domain([0,12]).range([plotH,0]);

panels.forEach((p,i) => {
  const g = svg.append("g").attr("transform",`translate(${p.left},${p.top})`);
  const clipId = "clip"+i;
  g.append("clipPath").attr("id",clipId).append("rect").attr("width",plotW).attr("height",plotH);

  // grid
  g.append("g").selectAll("line").data(yTicks.filter(v=>v>0 && v<12)).join("line")
    .attr("x1",0).attr("x2",plotW).attr("y1",d=>y(d)).attr("y2",d=>y(d))
    .attr("stroke",colors.grid).attr("stroke-width",1.3);
  g.append("g").selectAll("line").data(xTicks.filter(v=>v>0 && v<2)).join("line")
    .attr("y1",0).attr("y2",plotH).attr("x1",d=>x(d)).attr("x2",d=>x(d))
    .attr("stroke",colors.grid).attr("stroke-width",1.3);

  const line = d3.line().x((d,k)=>x(periods[k])).y(d=>y(d));
  const plot = g.append("g").attr("clip-path",`url(#${clipId})`);
  plot.selectAll("path.rec").data(p.records).join("path").attr("class","rec")
    .attr("d",line).attr("fill","none").attr("stroke",colors.record).attr("stroke-width",1.4);
  plot.append("path").attr("d",line(p.median)).attr("fill","none").attr("stroke",colors.median).attr("stroke-width",3).attr("stroke-linejoin","round");
  plot.append("path").attr("d",line(p.p16)).attr("fill","none").attr("stroke",colors.p16).attr("stroke-width",3).attr("stroke-dasharray","9,5");
  plot.append("path").attr("d",line(p.p84)).attr("fill","none").attr("stroke",colors.p84).attr("stroke-width",3).attr("stroke-dasharray","9,5");

  // frame
  g.append("rect").attr("width",plotW).attr("height",plotH).attr("fill","none").attr("stroke","#1a1a1a").attr("stroke-width",1.6);

  // axes
  const ya = g.append("g").call(d3.axisLeft(y).tickValues(yTicks).tickSize(0).tickPadding(22).tickFormat(d3.format("d")));
  ya.select(".domain").remove();
  ya.selectAll("text").attr("fill",colors.tick).style("font-family",tickFont).style("font-size","19px");
  const xa = g.append("g").attr("transform",`translate(0,${plotH})`)
    .call(d3.axisBottom(x).tickValues(xTicks).tickSize(0).tickPadding(22).tickFormat(d=>String(d)));
  xa.select(".domain").remove();
  xa.selectAll("text").attr("fill",colors.tick).style("font-family",tickFont).style("font-size","19px");

  // x label
  const xl = g.append("text").attr("x",plotW/2).attr("y",plotH+66).attr("text-anchor","middle").attr("fill","#222");
  xl.append("tspan").text("T").style("font-family",serif).style("font-style","italic").style("font-size","27px");
  xl.append("tspan").text(" (sec)").style("font-family",tickFont).style("font-style","italic").style("font-size","23px");

  // title box
  const tb = g.append("g");
  const tt = tb.append("text").text(p.title).attr("text-anchor","middle")
    .style("font-family",serif).style("font-weight","bold").style("font-size","30px").attr("fill","#000");
  const bw = tt.node().getComputedTextLength() + 26;
  const bx = plotW - 7 - bw, by = 9, bh = 45;
  tb.insert("rect","text").attr("x",bx).attr("y",by).attr("width",bw).attr("height",bh)
    .attr("fill","#fff").attr("stroke","#000").attr("stroke-width",1.6);
  tt.attr("x",bx+bw/2).attr("y",by+bh/2+10);
});

// y labels (left column only)
[24,454].forEach(top => {
  const t = svg.append("text").attr("transform",`translate(45,${top+172}) rotate(-90)`).attr("text-anchor","middle").attr("fill","#222");
  t.append("tspan").text("FSA").style("font-family",serif).style("font-style","italic").style("font-size","29px");
  t.append("tspan").text("V").attr("dy",5).style("font-family",serif).style("font-style","italic").style("font-size","19px");
  t.append("tspan").text(" (g)").attr("dy",-5).style("font-family",tickFont).style("font-style","italic").style("font-size","25px");
});

// legend
const legendItems = [
  {label: legendLabels[0], color: colors.record, dash: null, w: 2, x1: 45, x2: 113, tx: 120},
  {label: legendLabels[1], color: colors.median, dash: null, w: 3, x1: 328, x2: 400, tx: 405},
  {label: legendLabels[2], color: colors.p16, dash: "8,5", w: 3, x1: 631, x2: 700, tx: 706},
  {label: legendLabels[3], color: colors.p84, dash: "8,5", w: 3, x1: 926, x2: 996, tx: 998}
];
const lg = svg.append("g");
legendItems.forEach(it => {
  lg.append("line").attr("x1",it.x1).attr("x2",it.x2).attr("y1",914).attr("y2",914)
    .attr("stroke",it.color).attr("stroke-width",it.w).attr("stroke-dasharray",it.dash);
  lg.append("text").attr("x",it.tx).attr("y",925).text(it.label)
    .style("font-family",serif).style("font-size","30px").attr("fill","#111");
});
</script>
</body></html>
